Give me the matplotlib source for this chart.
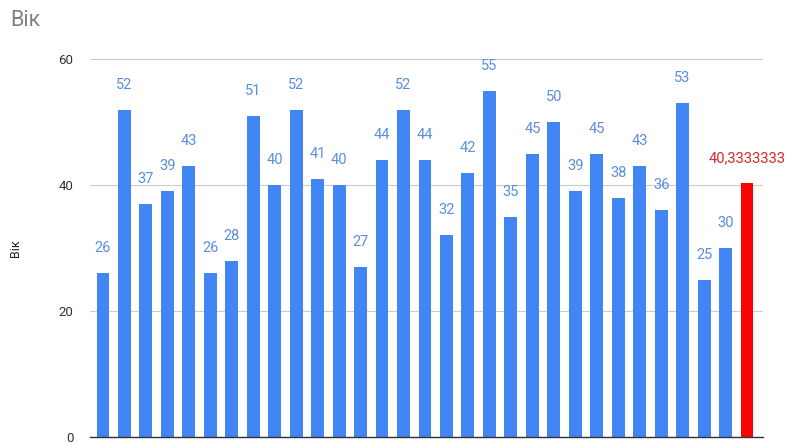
import matplotlib
matplotlib.use("Agg")
from matplotlib import pyplot as plt

# ages of respondents, last bar is the average
ages = [26, 52, 37, 39, 43, 26, 28, 51, 40, 52, 41, 40, 27, 44, 52, 44,
        32, 42, 55, 35, 45, 50, 39, 45, 38, 43, 36, 53, 25, 30]
average = sum(ages) / len(ages)
values = ages + [average]
labels = [str(a) for a in ages] + ["40,3333333"]
colors = ['#4285f4'] * len(ages) + ['#ff0000']
label_colors = ['#5b8ee0'] * len(ages) + ['#d42a2a']

plt.rcParams['font.family'] = ['Roboto', 'DejaVu Sans']

fig = plt.figure(figsize=(7.9, 4.45), dpi=100)
ax = fig.add_axes([0.114, 0.018, 0.852, 0.849])

x = list(range(len(values)))
ax.bar(x, values, width=0.6, color=colors, zorder=3)

for xi, v, lab, c in zip(x, values, labels, label_colors):
    ax.annotate(lab, (xi, v), xytext=(0, 18), textcoords='offset points',
                ha='center', va='center', fontsize=10.5, color=c)

ax.set_xlim(-0.6, 30.75)
ax.set_ylim(0, 60)
ax.set_yticks([0, 20, 40, 60])
ax.set_xticks([])
ax.tick_params(axis='y', length=0, labelsize=9.5, labelcolor='#333333', pad=12)
ax.grid(axis='y', color='#cccccc', linewidth=0.8, zorder=0)
for s in ['top', 'right', 'left']:
    ax.spines[s].set_visible(False)
ax.spines['bottom'].set_color('#333333')
ax.spines['bottom'].set_linewidth(1)
ax.spines['bottom'].set_zorder(4)

ax.set_ylabel('Вік', fontsize=9, color='#222222', labelpad=26)
fig.text(0.013, 0.955, 'Вік', fontsize=15.5, color='#808080', ha='left', va='center')

plt.savefig('out.png', dpi=100)
